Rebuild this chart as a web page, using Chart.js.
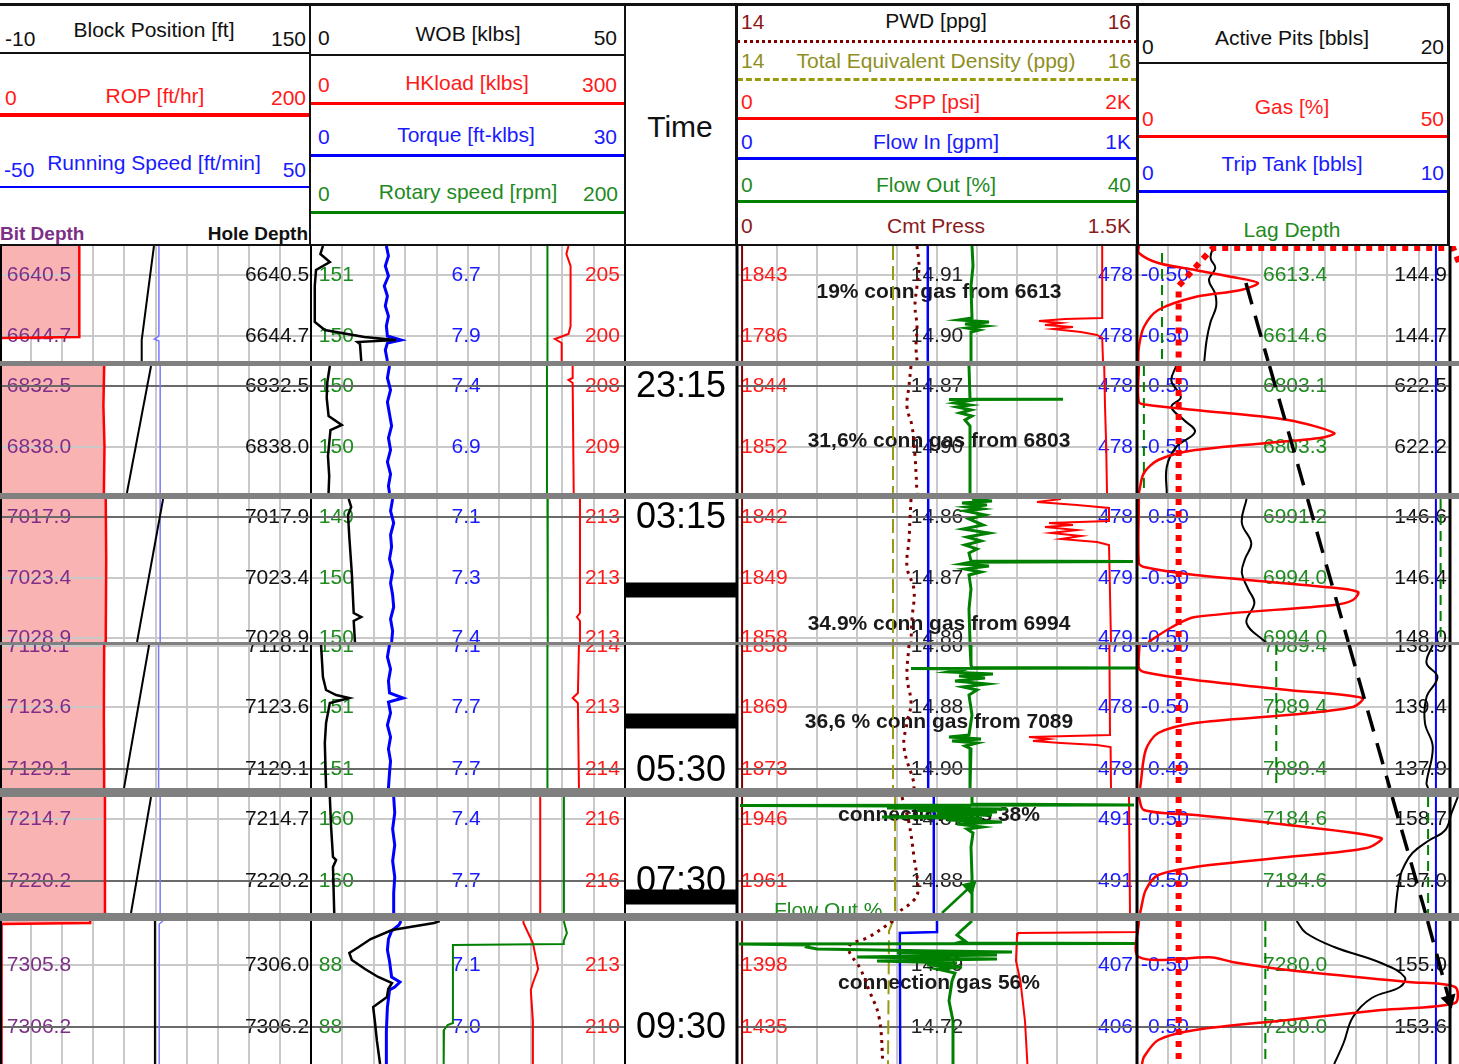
<!DOCTYPE html>
<html lang="en">
<head>
<meta charset="utf-8">
<title>Mud log – connection gas</title>
<script src="https://cdn.jsdelivr.net/npm/chart.js@4.4.1/dist/chart.umd.min.js"></script>
<style>
  html, body { margin: 0; padding: 0; background: #fff; }
  body { position: relative; width: 1459px; height: 1064px; overflow: hidden;
         font-family: "Liberation Sans", Arial, sans-serif; }
  #band { position: absolute; left: 0; top: 246px; width: 1459px; height: 818px; background: #808080; }
  canvas { position: absolute; left: 0; background: #fff; }
  .lbl  { position: absolute; white-space: nowrap; line-height: 1; z-index: 2; }
  .rule { position: absolute; z-index: 2; height: 0; width: 0; }
</style>
</head>
<body>
<div id="band"></div>
<script>
'use strict';

/* ═══════════════════════════════════════════════════
   Mud log – six time windows, five tracks
════════════════════════════════════════════════════ */

// ── Time windows: length in minutes ──────────────────
const STRIP_SPAN = [57.5, 63.5, 71.5, 71.5, 58, 71.5];

// ── Readout rows (window index, minute, clock row) ───
const ROW_STRIP = [0, 0, 1, 1, 2, 2, 2, 3, 3, 3, 4, 4, 5, 5];
const ROW_T     = [14.5, 45, 10, 40.5, 9, 39.5, 69.5, 0.5, 31, 62, 11, 42, 22, 53];
const ROW_DARK  = [0, 0, 1, 0, 1, 0, 0, 0, 0, 1, 0, 1, 0, 1];

const BIT_DEPTH  = ['6640.5','6644.7','6832.5','6838.0','7017.9','7023.4','7028.9','7118.1','7123.6','7129.1','7214.7','7220.2','7305.8','7306.2'];
const HOLE_DEPTH = ['6640.5','6644.7','6832.5','6838.0','7017.9','7023.4','7028.9','7118.1','7123.6','7129.1','7214.7','7220.2','7306.0','7306.2'];
const RPM_READ   = ['151','150','150','150','149','150','150','151','151','151','160','160','88','88'];
const TRQ_READ   = ['6.7','7.9','7.4','6.9','7.1','7.3','7.4','7.1','7.7','7.7','7.4','7.7','7.1','7.0'];
const HKL_READ   = ['205','200','208','209','213','213','213','214','213','214','216','216','213','210'];
const SPP_READ   = ['1843','1786','1844','1852','1842','1849','1858','1858','1869','1873','1946','1961','1398','1435'];
const PWD_READ   = ['14.91','14.90','14.87','14.90','14.86','14.87','14.89','14.86','14.88','14.90','14.87','14.88','14.59','14.72'];
const FIN_READ   = ['478','478','478','478','478','479','479','478','478','478','491','491','407','406'];
const TT_READ    = ['-0.50','-0.50','-0.50','-0.50','-0.50','-0.50','-0.50','-0.50','-0.50','-0.49','-0.50','-0.50','-0.50','-0.50'];
const LAG_READ   = ['6613.4','6614.6','6803.1','6803.3','6991.2','6994.0','6994.0','7089.4','7089.4','7089.4','7184.6','7184.6','7280.0','7280.0'];
const PIT_READ   = ['144.9','144.7','622.5','622.2','146.6','146.4','148.0','138.9','139.4','137.9','158.7','157.0','155.0','153.6'];

// ── Clock labels and marks ───────────────────────────
const CLOCK_STRIP = [1, 2, 3, 4, 5];
const CLOCK_T     = [10, 9, 62.5, 42, 53];
const CLOCK_TEXT  = ['23:15', '03:15', '05:30', '07:30', '09:30'];
const MARK_STRIP  = [2, 3, 4];
const MARK_T      = [45.5, 38, 50];

// ── Connection gas notes ─────────────────────────────
const NOTE_STRIP = [0, 1, 2, 3, 4, 5];
const NOTE_T     = [23, 37.5, 62.5, 38.5, 9, 31];
const NOTE_TEXT  = ['19% conn gas from 6613', '31,6% conn gas from 6803', '34.9% conn gas from 6994',
                    '36,6 % conn gas from 7089', 'connection gas 38%', 'connection gas 56%'];
const FLOW_NOTE  = { strip: 4, t: 57, text: 'Flow Out %' };

// ── Curves: one list per window, [minute, value] ─────
const ROP = [
  [[0,51],[45.5,51],[46,0.5],[57.5,0.5]],
  [[0,67],[20,66.5],[40,67.2],[63.5,66.8]],
  [[0,68],[30,68.3],[71.5,68]],
  [[0,67],[35,66.8],[71.5,67]],
  [[0,67.5],[58,67.5]],
  [[0,58],[1,58],[1.5,1],[71.5,1]],
];
const BLOCK = [
  [[0,69.2],[47,62.9],[57.5,62.9]],
  [[0,67.7],[63.5,55.3]],
  [[0,73.9],[71.5,60.5]],
  [[0,66.7],[71.5,53.8]],
  [[0,67.7],[58,57.4]],
  [[0,69.7],[71.5,69.7]],
];
const RUN_SPEED = [
  [[0,1.1],[45,1.1],[46.5,-0.4],[47.5,1.1],[57.5,1.1]],
  [[0,1.5],[63.5,1.5]],
  [[0,1.5],[71.5,1.5]],
  [[0,1.0],[71.5,1.0]],
  [[0,1.5],[58,1.5]],
  [[0,2.4],[1.5,1.2],[71.5,1.2]],
];
const WOB = [
  [[0,1.9],[4,1.5],[8,3.0],[12,0.8],[20,0.6],[38,0.6],[42,2.2],[45.5,8.5],[47,13.5],[48,7.4],[49,7.8],[57.5,8.0]],
  [[0,3.0],[8,2.6],[16,2.5],[25,2.8],[29.5,4.9],[32,3.1],[45,2.7],[55,2.9],[63.5,2.8]],
  [[0,6.0],[4,6.4],[8,5.9],[19,6.1],[37,6.5],[57,6.8],[59,8.0],[61,6.8],[71.5,7.0]],
  [[0,1.6],[16,1.9],[22.5,2.4],[25,4.0],[26.5,6.1],[29,3.0],[39,2.4],[49,2.2],[71.5,2.4]],
  [[0,3.0],[15,3.2],[30,3.5],[31.5,4.0],[35,3.5],[58,3.7]],
  [[0,20.5],[1,19.6],[4.5,12.9],[9,9.5],[13,7.6],[16,6.1],[19.5,6.5],[24,8.6],[28,10.7],[31,12.9],[34,12.3],[38,12.1],[43,9.9],[51,10.2],[60,10.5],[71.5,11.0]],
];
const TORQUE = [
  [[0,7.2],[5,7.4],[10,7.1],[15,7.4],[20,7.0],[25,7.3],[30,7.1],[35,7.4],[40,7.2],[45,7.3],[47,8.6],[48.5,7.3],[52,7.1],[57.5,7.3]],
  [[0,7.5],[6,7.3],[12,7.6],[18,7.3],[24,7.5],[30,7.7],[36,7.4],[42,7.6],[48,7.3],[54,7.6],[60,7.4],[63.5,7.5]],
  [[0,7.8],[6,7.6],[12,7.9],[18,7.6],[24,7.7],[30,7.5],[36,7.8],[42,7.6],[48,7.8],[54,7.9],[60,7.6],[66,7.8],[71.5,7.7]],
  [[0,7.5],[6,7.3],[12,7.6],[18,7.4],[24,7.5],[26.5,8.8],[28.5,7.4],[34,7.6],[40,7.3],[46,7.6],[52,7.4],[58,7.6],[64,7.5],[71.5,7.4]],
  [[0,7.9],[8,8.0],[16,7.8],[24,8.0],[32,7.8],[40,8.0],[48,7.9],[58,7.9]],
  [[0,8.6],[2,8.4],[5,7.7],[9,7.4],[14.5,7.3],[20,7.5],[28,7.7],[30.5,8.5],[33,8.0],[34.5,7.5],[43,7.3],[55,7.2],[71.5,7.2]],
];
const RPM = [
  [[0,150.6],[57.5,150.6]],
  [[0,150.3],[63.5,150.3]],
  [[0,150.6],[71.5,150.8]],
  [[0,150.6],[71.5,150.6]],
  [[0,161.1],[58,161.1]],
  [[0,161],[3,162],[6,163],[10,161],[11.5,161],[12,90.4],[51,90.4],[52,87],[54.5,84.7],[71.5,84.5]],
];
const HKLOAD = [
  [[0,246],[4,244],[10,248],[40,248],[44,246],[46.5,233],[48.5,239.5],[57.5,239.5]],
  [[0,250],[6,250],[7,246],[8.5,250],[63.5,251]],
  [[0,257],[57,257],[59,254],[61,257],[71.5,257]],
  [[0,256],[24,255],[26.5,250],[29,255],[71.5,256]],
  [[0,219],[58,219]],
  [[0,203],[1,203],[11,212],[24,217],[31,212],[34.5,210],[50,212],[71.5,212]],
];
const CMT_PRESS = [
  [[0,19],[57.5,19]], [[0,19],[63.5,19]], [[0,19],[71.5,19]],
  [[0,19],[71.5,19]], [[0,19],[58,19]], [[0,19],[71.5,19]],
];
const SPP = [
  [[0,1826],[36,1826],[36.5,1640],[37.5,1510],[38.5,1620],[39.5,1540],[40.5,1680],[41.5,1580],[43,1720],[44.5,1800],[46,1826],[57.5,1830]],
  [[0,1836],[20,1840],[40,1846],[63.5,1850]],
  [[0,1620],[1.5,1500],[3,1700],[4.5,1860],[11,1860],[12,1560],[13,1680],[14,1540],[15.5,1700],[17,1570],[18.5,1720],[20,1620],[21.5,1800],[23,1860],[71.5,1870]],
  [[0,1862],[45,1865],[46,1460],[47,1560],[48,1480],[49,1620],[50,1800],[51,1868],[71.5,1870]],
  [[0,1960],[58,1965]],
  [[0,2005],[5.5,2005],[6,1405],[8,1400],[20,1395],[30,1417],[50,1440],[71.5,1452]],
];
const FLOW_IN = [
  [[0,477],[57.5,477]], [[0,478],[63.5,478]], [[0,478],[71.5,478]],
  [[0,478],[71.5,478]], [[0,492],[58,492]], [[0,500],[5.5,500],[6,407],[71.5,408]],
];
const FLOW_OUT = [
  [[0,23.5],[10,23.6],[20,23.4],[36,23.5],[37,22.2],[38,25.2],[39,22.8],[40,24.8],[41,23.0],[42,24.2],[43,23.4],[57.5,23.4]],
  [[0,23.2],[16.5,23.3],[16.6,32.6],[16.8,21.2],[17.5,23.0],[18.5,21.8],[19.5,23.3],[20.5,22.0],[22,23.4],[23.5,22.3],[25,23.5],[27,22.8],[30,23.3],[63.5,23.3]],
  [[0,23.5],[1,25.5],[2,22.5],[3,25],[4,23],[5,24.5],[6,22.8],[8,24.8],[10,23.2],[13,24.6],[15,22.6],[17,25.2],[19,23],[21,24.4],[23,22.8],[25,24],[27,23.2],[31,23.4],[31.3,39.6],[31.6,23.3],[32.5,22.4],[33.5,25.2],[35,22.8],[36.5,24.4],[38,23.2],[45,23.4],[55,23.2],[71.5,23.3]],
  [[0,23.3],[10,23.4],[11.3,23.5],[11.5,40],[11.7,17.4],[12,23.0],[13.5,21.2],[14.5,25.6],[15.5,22.2],[16.5,24.8],[18,21.8],[19.5,25.0],[21,22.6],[22.5,24.0],[25,23.2],[35,23.5],[45,23.2],[46,21.2],[47,24.4],[48,21.5],[49,24.0],[50.5,22.8],[52,23.4],[71.5,23.3]],
  [[0,23.5],[3.5,23.5],[4,39.7],[4.3,0.3],[4.6,23.4],[5.5,15],[6,27],[6.8,18],[7.5,26],[8.3,20],[9,25.5],[10,14.5],[10.8,24.5],[11.5,21],[12.5,26.5],[13.5,22],[15,24.5],[16,23],[18,23.6],[25,23.4],[40,23.5],[58,23.5]],
  [[0,23.5],[4.5,22.5],[7,22],[10,22.8],[11,22],[11.2,40],[11.5,0.2],[12,7.2],[13,7],[14,8],[15,20],[15.5,27.5],[16,16],[17,26],[18,12],[19,26],[20,14],[21,22],[22,19],[23,22.5],[24,20],[26,21.8],[30,21.5],[40,21.2],[50,21.6],[71.5,21.6]],
];
const PWD = [
  [[0,14.90],[10,14.91],[20,14.90],[30,14.89],[40,14.90],[50,14.895],[57.5,14.90]],
  [[0,14.87],[10,14.86],[20.5,14.85],[30,14.875],[45,14.89],[63.5,14.90]],
  [[0,14.87],[10,14.865],[20.5,14.86],[34,14.85],[45.5,14.885],[60,14.875],[71.5,14.87]],
  [[0,14.86],[16,14.85],[29,14.87],[39,14.85],[51,14.835],[69,14.885],[71.5,14.885]],
  [[0,14.825],[13,14.86],[30,14.885],[46.5,14.905],[51.5,14.885],[58,14.80]],
  [[0,14.78],[8,14.66],[13,14.56],[24.5,14.62],[34.5,14.66],[48,14.71],[71.5,14.73]],
];
const TED = [
  [[0,14.78],[57.5,14.78]], [[0,14.78],[63.5,14.78]], [[0,14.78],[71.5,14.78]],
  [[0,14.78],[71.5,14.78]], [[0,14.79],[58,14.79]], [[0,14.78],[5,14.76],[71.5,14.755]],
];
const GAS = [
  [[0,0.3],[3.5,0.3],[8.5,3.4],[12,9.3],[15.5,15.2],[18.5,19.3],[22,16.6],[25.5,9.3],[32,3.4],[40.5,1.1],[50.5,0.3],[57.5,0.2]],
  [[0,0.3],[18,0.3],[19.5,1.8],[22,9.3],[27,24.1],[33.5,31.5],[36,29.2],[42,9.3],[47,3.4],[53.5,1.1],[63.5,0.3]],
  [[0,0.3],[32,0.3],[34,1.1],[38,9.3],[44,30],[46.5,35.3],[50.5,34.5],[53,31.5],[59,9.3],[64,5.6],[71.5,1.8]],
  [[0,0.4],[11.5,0.3],[13.5,1.1],[17.5,9.3],[22.5,24.1],[26.5,36],[31,34.5],[35,24.1],[39,9.3],[44,3.4],[52.5,1.4],[69,0.6],[71.5,0.5]],
  [[0,0.3],[6.5,1.1],[9,9.3],[14,24.1],[20.5,39],[25.5,36.7],[30,24.1],[35,9.3],[39,3.4],[46.5,1.4],[56.5,0.6],[58,0.5]],
  [[0,0.3],[18,0.3],[18.2,12.1],[20.5,15.2],[24.5,24.1],[30.5,43.4],[33,50.8],[41,50.8],[44.5,39],[49.5,24.1],[54.5,9.3],[59.5,3.4],[68,1.1],[71.5,0.8]],
];
const PITS = [
  [[0,4.9],[6,4.7],[11,5.0],[17,4.6],[24,5.0],[30.5,5.05],[38,4.7],[47,4.45],[57.5,4.3]],
  [[0,2.5],[7.5,2.2],[15.5,2.8],[20.5,2.2],[27,3.0],[33,3.7],[40.5,2.5],[50.5,1.9],[63.5,1.9]],
  [[0,7.0],[12,6.7],[22,7.3],[30,6.9],[37,6.7],[45,7.1],[52,7.5],[62,7.0],[71.5,8.2]],
  [[0,18.9],[9,18.5],[16,19.2],[26,18.5],[39,18.4],[51,18.9],[69,18.5],[71.5,18.6]],
  [[0,20.5],[8,20.1],[16.5,19.7],[22,18.6],[28,17.6],[34,17.1],[40,16.8],[50,16.6],[58,16.5]],
  [[0,10.2],[6,10.8],[13,12.6],[21,15.6],[28,17.1],[33,16.8],[38.5,15.0],[48,13.8],[61,13.2],[71.5,12.6]],
];
const TRIP_TANK = [
  [[0,9.55],[57.5,9.55]], [[0,9.55],[63.5,9.55]], [[0,9.55],[71.5,9.55]],
  [[0,9.55],[71.5,9.55]], [[0,9.55],[58,9.55]], [[0,9.55],[71.5,9.55]],
];
const LAG_MARK = [
  [[3.5,0.8],[57.5,0.8]], [[0,0.22],[63.5,0.22]], [[0,9.7],[71.5,9.7]],
  [[0,4.45],[71.5,4.45]], [[0,9.3],[58,9.3]], [[0,4.1],[71.5,4.1]],
];
const GAS_CUTOFF = [
  [[8,51.4],[1,50.5],[1,12.1],[20,6.65],[57.5,6.65]],
  [[0,6.65],[63.5,6.65]], [[0,6.65],[71.5,6.65]], [[0,6.65],[71.5,6.65]],
  [[0,6.65],[58,6.65]], [[0,6.65],[71.5,6.65]],
];
const LAG_TREND = [
  [[18.5,6.96],[57.5,8.37]],
  [[0,8.47],[63.5,10.79]],
  [[0,10.9],[71.5,13.5]],
  [[0,13.55],[71.5,16.15]],
  [[0,16.31],[58,18.43]],
  [[0,18.57],[39.5,19.95]],
];
const FLOW_ARROW = [[], [], [], [], [[58,20.5],[45,23.3]], []];

// ── Page geometry ────────────────────────────────────
const W = 1459;
const PX_PER_MIN = 2;
const STRIP_TOP = [246, 366, 499, 645, 797, 921];
const TRACK_PX = { a: [0, 311], b: [311, 625], t: [625, 737], c: [737, 1137], d: [1137, 1450] };

const INK = '#111', RED = '#ff0000', BLUE = '#0000ff', GREEN = '#008000', BROWN = '#800000', OLIVE = '#9a9a10';
const RED_T = '#ff1a1a', BLUE_T = '#1a1aff', GREEN_T = '#1f8a1f', BROWN_T = '#8b1a1a', OLIVE_T = '#8f8f1f', PURPLE_T = '#7d2f87';

// time bars built from the mark lists
const CLOCK_MARKS = STRIP_SPAN.map((_, s) => {
  const i = MARK_STRIP.indexOf(s);
  return i < 0 ? [] : [[MARK_T[i], 0], [MARK_T[i], 1]];
});

// first entry is drawn on top
const CURVES = [
  { id: 'clk',  tr: 't', lo: 0,   hi: 1,    data: CLOCK_MARKS, color: '#000', width: 15 },
  { id: 'fart', tr: 'c', lo: 0,   hi: 40,   data: FLOW_ARROW, color: GREEN, width: 2.5, head: { strip: 4, rot: 47 } },
  { id: 'trend',tr: 'd', lo: 0,   hi: 20,   data: LAG_TREND, color: '#000', width: 3.5, dash: [22, 12], head: { strip: 5, rot: 164 } },
  { id: 'cut',  tr: 'd', lo: 0,   hi: 50,   data: GAS_CUTOFF, color: RED, width: 6, dash: [6, 6] },
  { id: 'gas',  tr: 'd', lo: 0,   hi: 50,   data: GAS, color: RED, width: 2.5, tension: 0.3 },
  { id: 'pits', tr: 'd', lo: 0,   hi: 20,   data: PITS, color: '#000', width: 2, tension: 0.4 },
  { id: 'trip', tr: 'd', lo: 0,   hi: 10,   data: TRIP_TANK, color: BLUE, width: 2 },
  { id: 'lag',  tr: 'd', lo: 0,   hi: 10,   data: LAG_MARK, color: GREEN, width: 2, dash: [10, 6] },
  { id: 'fout', tr: 'c', lo: 0,   hi: 40,   data: FLOW_OUT, color: GREEN, width: 3 },
  { id: 'spp',  tr: 'c', lo: 0,   hi: 2000, data: SPP, color: RED, width: 2 },
  { id: 'fin',  tr: 'c', lo: 0,   hi: 1000, data: FLOW_IN, color: BLUE, width: 2.5 },
  { id: 'pwd',  tr: 'c', lo: 14,  hi: 16,   data: PWD, color: BROWN, width: 3, dash: [3, 5], tension: 0.4 },
  { id: 'ted',  tr: 'c', lo: 14,  hi: 16,   data: TED, color: OLIVE, width: 2, dash: [14, 6] },
  { id: 'cmt',  tr: 'c', lo: 0,   hi: 1500, data: CMT_PRESS, color: BROWN, width: 2 },
  { id: 'wob',  tr: 'b', lo: 0,   hi: 50,   data: WOB, color: '#000', width: 2.5 },
  { id: 'trq',  tr: 'b', lo: 0,   hi: 30,   data: TORQUE, color: BLUE, width: 3 },
  { id: 'rpm',  tr: 'b', lo: 0,   hi: 200,  data: RPM, color: GREEN, width: 2 },
  { id: 'hkl',  tr: 'b', lo: 0,   hi: 300,  data: HKLOAD, color: RED, width: 2 },
  { id: 'blk',  tr: 'a', lo: -10, hi: 150,  data: BLOCK, color: '#000', width: 2 },
  { id: 'rsp',  tr: 'a', lo: -50, hi: 50,   data: RUN_SPEED, color: '#7a7aff', width: 1.5 },
  { id: 'rop',  tr: 'a', lo: 0,   hi: 200,  data: ROP, color: RED, width: 2.5, fill: '#f9b3b3' },
];

// readout columns: grid scale, position in tenths of the track, alignment
const READOUTS = [
  { vals: BIT_DEPTH,  g: 'ga', at: 0.22, align: 'left',   color: PURPLE_T },
  { vals: HOLE_DEPTH, g: 'ga', at: 9.94, align: 'right',  color: INK },
  { vals: RPM_READ,   g: 'gb', at: 0.25, align: 'left',   color: GREEN_T },
  { vals: TRQ_READ,   g: 'gb', at: 4.94, align: 'center', color: BLUE_T },
  { vals: HKL_READ,   g: 'gb', at: 9.84, align: 'right',  color: RED_T },
  { vals: SPP_READ,   g: 'gc', at: 0.1,  align: 'left',   color: RED_T },
  { vals: PWD_READ,   g: 'gc', at: 5.0,  align: 'center', color: '#222' },
  { vals: FIN_READ,   g: 'gc', at: 9.9,  align: 'right',  color: BLUE_T },
  { vals: TT_READ,    g: 'gd', at: 0.13, align: 'left',   color: BLUE_T },
  { vals: LAG_READ,   g: 'gd', at: 5.05, align: 'center', color: GREEN_T },
  { vals: PIT_READ,   g: 'gd', at: 9.9,  align: 'right',  color: INK },
];

// ── Header (track titles and legend lines) ───────────
const HEAD = [
  ['-10', 5, 38, 'l', INK], ['Block Position [ft]', 154, 29, 'c', INK], ['150', 306, 38, 'r', INK],
  ['0', 5, 97, 'l', RED_T], ['ROP [ft/hr]', 155, 95, 'c', RED_T], ['200', 306, 97, 'r', RED_T],
  ['-50', 4, 169, 'l', BLUE_T], ['Running Speed [ft/min]', 154, 162, 'c', BLUE_T], ['50', 306, 169, 'r', BLUE_T],
  ['Bit Depth', 0, 233, 'l', PURPLE_T, 19, 700], ['Hole Depth', 308, 233, 'r', INK, 19, 700],
  ['0', 318, 37, 'l', INK], ['WOB [klbs]', 468, 33, 'c', INK], ['50', 617, 37, 'r', INK],
  ['0', 318, 84, 'l', RED_T], ['HKload [klbs]', 467, 82, 'c', RED_T], ['300', 617, 84, 'r', RED_T],
  ['0', 318, 136, 'l', BLUE_T], ['Torque [ft-klbs]', 466, 134, 'c', BLUE_T], ['30', 617, 136, 'r', BLUE_T],
  ['0', 318, 193, 'l', GREEN_T], ['Rotary speed [rpm]', 468, 191, 'c', GREEN_T], ['200', 618, 193, 'r', GREEN_T],
  ['Time', 680, 127, 'c', INK, 30],
  ['14', 741, 21, 'l', BROWN_T], ['PWD [ppg]', 936, 20, 'c', INK], ['16', 1131, 21, 'r', BROWN_T],
  ['14', 741, 60, 'l', OLIVE_T], ['Total Equivalent Density (ppg)', 936, 60, 'c', OLIVE_T], ['16', 1131, 60, 'r', OLIVE_T],
  ['0', 741, 101, 'l', RED_T], ['SPP [psi]', 937, 101, 'c', RED_T], ['2K', 1131, 101, 'r', RED_T],
  ['0', 741, 141, 'l', BLUE_T], ['Flow In [gpm]', 936, 141, 'c', BLUE_T], ['1K', 1131, 141, 'r', BLUE_T],
  ['0', 741, 184, 'l', GREEN_T], ['Flow Out [%]', 936, 184, 'c', GREEN_T], ['40', 1131, 184, 'r', GREEN_T],
  ['0', 741, 225, 'l', BROWN_T], ['Cmt Press', 936, 225, 'c', BROWN_T], ['1.5K', 1131, 225, 'r', BROWN_T],
  ['0', 1142, 46, 'l', INK], ['Active Pits [bbls]', 1292, 37, 'c', INK], ['20', 1444, 46, 'r', INK],
  ['0', 1142, 118, 'l', RED_T], ['Gas [%]', 1292, 106, 'c', RED_T], ['50', 1444, 118, 'r', RED_T],
  ['0', 1142, 172, 'l', BLUE_T], ['Trip Tank [bbls]', 1292, 163, 'c', BLUE_T], ['10', 1444, 172, 'r', BLUE_T],
  ['Lag Depth', 1292, 229, 'c', GREEN_T],
];
const H_RULES = [
  [0, 3, 1450, 3, 'solid', INK], [0, 244, 1450, 2, 'solid', INK],
  [0, 52, 311, 2, 'solid', INK], [0, 113, 311, 4, 'solid', RED], [0, 186, 311, 2, 'solid', BLUE],
  [311, 54, 314, 2, 'solid', INK], [311, 102, 314, 3, 'solid', RED], [311, 154, 314, 3, 'solid', BLUE], [311, 211, 314, 3, 'solid', GREEN],
  [737, 40, 400, 3, 'dotted', BROWN], [737, 78, 400, 3, 'dashed', OLIVE], [737, 117, 400, 3, 'solid', RED],
  [737, 157, 400, 3, 'solid', BLUE], [737, 200, 400, 3, 'solid', GREEN],
  [1137, 62, 312, 2, 'solid', INK], [1137, 135, 312, 3, 'solid', RED], [1137, 190, 312, 3, 'solid', BLUE],
];
const V_RULES = [[309, 2], [624, 2], [735, 3], [1136, 3], [1447, 3]];

HEAD.forEach(([text, x, cy, al, color, size = 21, weight = 400]) => {
  const d = document.createElement('div');
  d.className = 'lbl';
  d.textContent = text;
  d.style.fontSize = size + 'px';
  d.style.color = color;
  d.style.fontWeight = weight;
  d.style.top = (cy - size * 0.5) + 'px';
  if (al === 'l') d.style.left = x + 'px';
  else if (al === 'r') d.style.right = (W - x) + 'px';
  else { d.style.left = x + 'px'; d.style.transform = 'translateX(-50%)'; }
  document.body.appendChild(d);
});
H_RULES.forEach(([x, y, w, h, style, color]) => {
  const d = document.createElement('div');
  d.className = 'rule';
  d.style.cssText += `left:${x}px;top:${y}px;width:${w}px;border-top:${h}px ${style} ${color};`;
  document.body.appendChild(d);
});
V_RULES.forEach(([x, w]) => {
  const d = document.createElement('div');
  d.className = 'rule';
  d.style.cssText += `left:${x}px;top:3px;height:243px;border-left:${w}px solid ${INK};`;
  document.body.appendChild(d);
});

// ── Helpers ──────────────────────────────────────────
// x axis whose [lo, hi] lands exactly on the track's pixel span
function trackAxis(tr, lo, hi) {
  const [a, b] = TRACK_PX[tr];
  const k = (hi - lo) / (b - a);
  return { type: 'linear', axis: 'x', display: false, min: lo - a * k, max: lo + (W - a) * k };
}
const series = pts => pts.map(([t, v]) => ({ x: v, y: t }));
const FONT = '"Liberation Sans", Arial, sans-serif';

// horizontal readout line across the four data tracks
function rowLine(chart, t, color) {
  const ctx = chart.ctx;
  const gx = (g, v) => chart.scales[g].getPixelForValue(v);
  const py = Math.round(chart.scales.y.getPixelForValue(t));
  ctx.strokeStyle = color;
  ctx.lineWidth = 2;
  ctx.beginPath();
  ctx.moveTo(gx('ga', 0), py); ctx.lineTo(gx('gb', 10), py);
  ctx.moveTo(gx('gc', 0), py); ctx.lineTo(gx('gd', 10), py);
  ctx.stroke();
}

// ── Grid, text and frame of each window ──────────────
const logPlugin = {
  id: 'logTrack',
  // vertical grid first, so the ROP fill covers it
  beforeDraw(chart) {
    const ctx = chart.ctx;
    const gx = (g, v) => chart.scales[g].getPixelForValue(v);
    ctx.save();
    ctx.strokeStyle = '#c9c9c9';
    ctx.lineWidth = 2;
    ['ga', 'gb', 'gc', 'gd'].forEach(g => {
      for (let i = 1; i < 10; i++) {
        const x = Math.round(gx(g, i));
        ctx.beginPath(); ctx.moveTo(x, 0); ctx.lineTo(x, chart.height); ctx.stroke();
      }
    });
    ctx.restore();
  },
  beforeDatasetsDraw(chart, args, opts) {
    const s = opts.strip, ctx = chart.ctx, ys = chart.scales.y;
    const gx = (g, v) => chart.scales[g].getPixelForValue(v);
    ctx.save();

    // light rows sit under the text
    ROW_STRIP.forEach((rs, r) => { if (rs === s && !ROW_DARK[r]) rowLine(chart, ROW_T[r], '#c9c9c9'); });

    ctx.textBaseline = 'middle';
    ctx.font = '21px ' + FONT;
    ROW_STRIP.forEach((rs, r) => {
      if (rs !== s) return;
      const py = ys.getPixelForValue(ROW_T[r]);
      READOUTS.forEach(c => {
        ctx.fillStyle = c.color;
        ctx.textAlign = c.align;
        ctx.fillText(c.vals[r], gx(c.g, c.at), py);
      });
    });

    // clock
    ctx.font = '36px ' + FONT;
    ctx.fillStyle = '#000';
    ctx.textAlign = 'center';
    CLOCK_STRIP.forEach((cs, i) => {
      if (cs === s) ctx.fillText(CLOCK_TEXT[i], gx('gt', 0.5), ys.getPixelForValue(CLOCK_T[i]) + 1);
    });

    // gas notes
    ctx.font = 'bold 21px ' + FONT;
    ctx.fillStyle = '#1a1a1a';
    NOTE_STRIP.forEach((ns, i) => {
      if (ns === s) ctx.fillText(NOTE_TEXT[i], gx('gc', 5.05), ys.getPixelForValue(NOTE_T[i]));
    });
    if (FLOW_NOTE.strip === s) {
      ctx.font = '21px ' + FONT;
      ctx.fillStyle = GREEN_T;
      ctx.fillText(FLOW_NOTE.text, gx('gc', 2.28), ys.getPixelForValue(FLOW_NOTE.t));
    }

    // clock rows strike through the text
    ROW_STRIP.forEach((rs, r) => { if (rs === s && ROW_DARK[r]) rowLine(chart, ROW_T[r], '#6a6a6a'); });
    ctx.restore();
  },
  afterDatasetsDraw(chart) {
    const ctx = chart.ctx;
    const gx = (g, v) => chart.scales[g].getPixelForValue(v);
    ctx.save();
    ctx.strokeStyle = '#000';
    [[gx('ga', 0) + 1, 2], [gx('gb', 0), 2], [gx('gb', 10), 2], [gx('gc', 0), 3], [gx('gd', 0), 3], [gx('gd', 10), 3]]
      .forEach(([x, w]) => {
        ctx.lineWidth = w;
        ctx.beginPath(); ctx.moveTo(x, 0); ctx.lineTo(x, chart.height); ctx.stroke();
      });
    ctx.restore();
  },
};

// ── Build one chart per time window ──────────────────
STRIP_SPAN.forEach((span, s) => {
  const cv = document.createElement('canvas');
  cv.width = W;
  cv.height = Math.round(span * PX_PER_MIN);
  cv.style.top = STRIP_TOP[s] + 'px';
  document.body.appendChild(cv);

  const scales = {
    y: { type: 'linear', min: 0, max: span, reverse: true, display: false },
    x: { type: 'linear', axis: 'x', display: false, min: 0, max: 1 },
    ga: trackAxis('a', 0, 10), gb: trackAxis('b', 0, 10), gt: trackAxis('t', 0, 1),
    gc: trackAxis('c', 0, 10), gd: trackAxis('d', 0, 10),
  };
  const datasets = [];
  CURVES.forEach(c => {
    scales[c.id] = trackAxis(c.tr, c.lo, c.hi);
    const pts = c.data[s];
    if (!pts || !pts.length) return;
    const n = pts.length;
    const head = c.head && c.head.strip === s;
    datasets.push({
      data: series(pts),
      xAxisID: c.id, yAxisID: 'y',
      borderColor: c.color,
      borderWidth: c.width,
      borderDash: c.dash || [],
      backgroundColor: c.fill || c.color,
      fill: c.fill ? 'origin' : false,
      tension: c.tension || 0,
      pointStyle: 'triangle',
      pointRotation: head ? c.head.rot : 0,
      pointRadius: head ? (ctx => (ctx.dataIndex === n - 1 ? 9 : 0)) : 0,
      pointBackgroundColor: c.color,
      pointBorderWidth: 0,
    });
  });

  new Chart(cv, {
    type: 'line',
    data: { datasets },
    options: {
      indexAxis: 'y',
      responsive: false,
      animation: false,
      events: [],
      layout: { padding: 0, autoPadding: false },
      scales,
      plugins: {
        legend: { display: false },
        tooltip: { enabled: false },
        filler: { drawTime: 'beforeDatasetsDraw' },
        logTrack: { strip: s },
      },
    },
    plugins: [logPlugin],
  });
});
</script>
</body>
</html>
